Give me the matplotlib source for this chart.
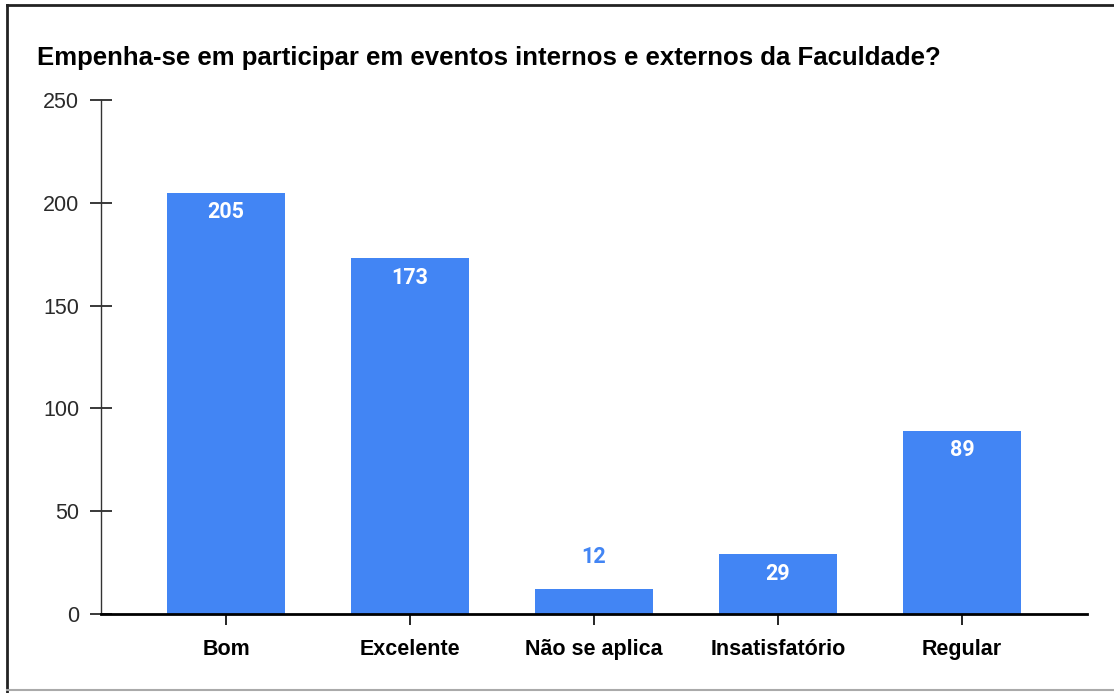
import matplotlib
matplotlib.use("Agg")
import matplotlib.pyplot as plt
from matplotlib.lines import Line2D

categories = ["Bom", "Excelente", "Não se aplica", "Insatisfatório", "Regular"]
values = [205, 173, 12, 29, 89]
yticks = [0, 50, 100, 150, 200, 250]
title = "Empenha-se em participar em eventos internos e externos da Faculdade?"

W, H = 1114, 693
fig = plt.figure(figsize=(W / 100, H / 100), dpi=100)
fig.patch.set_facecolor("white")

x0, x1 = 101, 1087
yb, yt = 614, 100
ax = fig.add_axes([x0 / W, 1 - yb / H, (x1 - x0) / W, (yb - yt) / H])

bar_color = "#4285F4"
xs = list(range(len(categories)))
ax.bar(xs, values, width=0.64, color=bar_color, zorder=2)
ax.set_xlim(-0.68, len(categories) - 1 + 0.68)
ax.set_ylim(0, 250)

for s in ["top", "right"]:
    ax.spines[s].set_visible(False)
ax.spines["left"].set_color("#333333")
ax.spines["left"].set_linewidth(1.0)
ax.spines["bottom"].set_color("black")
ax.spines["bottom"].set_linewidth(2.0)
ax.spines["bottom"].set_zorder(3)

ax.set_yticks(yticks)
ax.set_yticklabels([str(v) for v in yticks], fontsize=15.5, color="#2a2a2a",
                   family="Liberation Sans")
ax.tick_params(axis="y", direction="inout", length=16.5, width=1.3, pad=7.5, colors="#2a2a2a")
ax.set_xticks(xs)
ax.set_xticklabels(categories, fontsize=15.5, fontweight="bold", color="#111111",
                   family="Liberation Sans")
ax.tick_params(axis="x", direction="inout", length=16, width=1.2, pad=10, colors="black")

for x, v in zip(xs, values):
    if v > 20:
        ax.annotate(str(v), (x, v), xytext=(0, -6), textcoords="offset points",
                    ha="center", va="top", color="white", fontsize=15.5,
                    fontweight="bold", family="Roboto", zorder=4)
    else:
        ax.annotate(str(v), (x, v), xytext=(0, 15), textcoords="offset points",
                    ha="center", va="bottom", color=bar_color, fontsize=15.5,
                    fontweight="bold", family="Roboto", zorder=4)

fig.text(37 / W, 1 - 58 / H, title, fontsize=18.5, fontweight="bold",
         family="Liberation Sans", color="black", ha="left", va="center")

# frame
fig.add_artist(Line2D([7 / W, 7 / W], [0, 1 - 5 / H], transform=fig.transFigure,
                      color="#222222", lw=2))
fig.add_artist(Line2D([7 / W, 1], [1 - 5 / H, 1 - 5 / H], transform=fig.transFigure,
                      color="#222222", lw=2))
fig.add_artist(Line2D([7 / W, 1], [1 - 690 / H, 1 - 690 / H], transform=fig.transFigure,
                      color="#aaaaaa", lw=1.5))

fig.savefig("out.png", dpi=100)
